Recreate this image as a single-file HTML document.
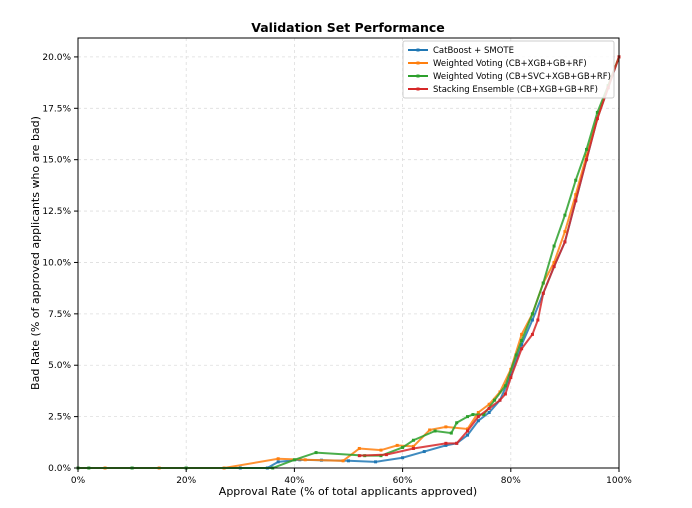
<!DOCTYPE html>
<html><head><meta charset="utf-8"><style>
body{margin:0;background:#fff;font-family:"Liberation Sans","DejaVu Sans",sans-serif}
</style></head><body>
<svg id="chart" width="692" height="503" xmlns="http://www.w3.org/2000/svg" font-family="DejaVu Sans, Liberation Sans, sans-serif">
<text x="348" y="32" text-anchor="middle" font-size="12.5" font-weight="bold">Validation Set Performance</text>
<g id="grid"></g><g id="series"></g><g id="axes"></g>
<text x="348" y="495" text-anchor="middle" font-size="11">Approval Rate (% of total applicants approved)</text>
<text transform="translate(39,253) rotate(-90)" text-anchor="middle" font-size="11">Bad Rate (% of approved applicants who are bad)</text>
<g id="legend"></g>
</svg>
<script>
const xTicks=[0,20,40,60,80,100];
const yTicks=[0,2.5,5,7.5,10,12.5,15,17.5,20];
const seriesNames=["CatBoost + SMOTE","Weighted Voting (CB+XGB+GB+RF)","Weighted Voting (CB+SVC+XGB+GB+RF)","Stacking Ensemble (CB+XGB+GB+RF)"];
const seriesColors=["#1f77b4","#ff7f0e","#2ca02c","#d62728"];
const blueX=[0,10,20,30,35,37,41,45,50,55,60,64,68,70,72,74,76,78,80,82,84,86,88,90,92,94,96,98,100];
const blueY=[0,0,0,0,0,0.3,0.4,0.38,0.35,0.3,0.5,0.8,1.1,1.2,1.6,2.3,2.7,3.3,4.5,6,7.2,8.5,9.8,11,13,15,17,18.5,20];
const orangeX=[0,5,15,27,37,42,49,52,56,59,62,65,68,72,74,76,78,80,82,84,86,88,90,92,94,96,98,100];
const orangeY=[0,0,0,0,0.45,0.4,0.35,0.95,0.87,1.1,1.05,1.85,2.0,1.9,2.7,3.1,3.7,4.8,6.5,7.5,9,10,11.5,13.3,15.2,17,18.6,20];
const greenX=[0,2,10,20,36,40,44,53,56,60,62,66,69,70,72,73,75,77,79,81,82,84,86,88,90,92,94,96,98,100];
const greenY=[0,0,0,0,0,0.4,0.75,0.6,0.6,1.0,1.35,1.8,1.7,2.2,2.5,2.6,2.6,3.3,4.0,5.5,6.2,7.5,9,10.8,12.3,14,15.5,17.3,18.6,20];
const redX=[52,57,62,68,70,72,74,76,78,79,80,82,84,85,86,88,90,92,94,96,98,100];
const redY=[0.6,0.65,0.95,1.2,1.2,1.8,2.5,2.9,3.3,3.6,4.4,5.8,6.5,7.2,8.5,9.8,11,13,15,17,18.5,20];
const allX=[blueX,orangeX,greenX,redX], allY=[blueY,orangeY,greenY,redY];
const L=78,R=619,T=38,B=468,YMAX=20.92;
const sx=v=>L+(R-L)*v/100, sy=v=>B-(B-T)*v/YMAX;
const NS="http://www.w3.org/2000/svg";
function mk(t,p,a){const e=document.createElementNS(NS,t);for(const k in a)e.setAttribute(k,a[k]);p.appendChild(e);return e;}
const grid=document.getElementById('grid'),axes=document.getElementById('axes'),ser=document.getElementById('series'),leg=document.getElementById('legend');
xTicks.forEach(v=>{const g=mk('line',grid,{x1:sx(v),x2:sx(v),y1:T,y2:B,stroke:'#ddd','stroke-dasharray':'3,3','stroke-width':0.8});

mk('line',axes,{x1:sx(v),x2:sx(v),y1:B,y2:B+4,stroke:'#000'});
const t=mk('text',axes,{x:sx(v),y:B+15,'text-anchor':'middle','font-size':9});t.textContent=v+'%';
});
yTicks.forEach(v=>{const g=mk('line',grid,{x1:L,x2:R,y1:sy(v),y2:sy(v),stroke:'#ddd','stroke-dasharray':'3,3','stroke-width':0.8});

mk('line',axes,{x1:L-4,x2:L,y1:sy(v),y2:sy(v),stroke:'#000'});
const t=mk('text',axes,{x:L-7,y:sy(v)+3,'text-anchor':'end','font-size':9});t.textContent=v.toFixed(1)+'%';
});
const fr=mk('rect',axes,{x:L,y:T,width:R-L,height:B-T,fill:'none',stroke:'#000','stroke-width':1});

allX.forEach((xs,i)=>{const g=mk('g',ser,{});

const pts=xs.map((x,j)=>sx(x)+','+sy(allY[i][j])).join(' ');
mk('polyline',g,{points:pts,fill:'none',stroke:seriesColors[i],'stroke-width':2,opacity:0.85});
xs.forEach((x,j)=>{const m=mk('rect',g,{x:sx(x)-1.5,y:sy(allY[i][j])-1.5,width:3,height:3,fill:seriesColors[i]});
});});
const lb=mk('rect',leg,{x:403,y:41,width:211,height:57,fill:'#fff','fill-opacity':0.85,stroke:'#ccc',rx:2});

seriesNames.forEach((n,i)=>{const y=50+i*13;const g=mk('g',leg,{});

mk('line',g,{x1:408,x2:428,y1:y,y2:y,stroke:seriesColors[i],'stroke-width':2});
mk('rect',g,{x:416.5,y:y-1.5,width:3,height:3,fill:seriesColors[i]});
const t=mk('text',g,{x:433,y:y+3,'font-size':8.5});t.textContent=n;});
</script>
</body></html>
